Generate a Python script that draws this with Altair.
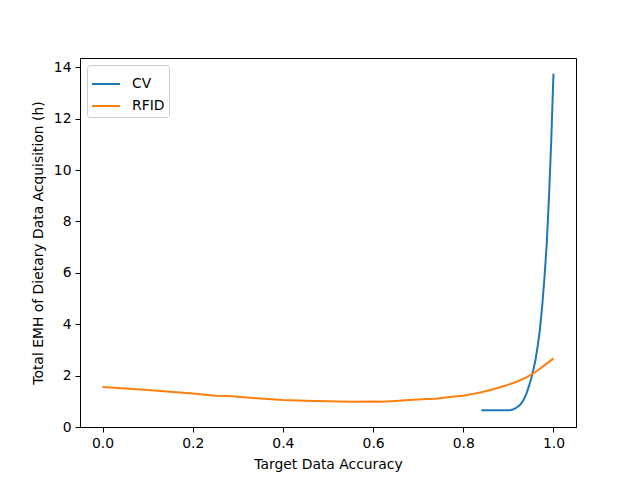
import altair as alt
import pandas as pd

cv_x = [0.84, 0.86, 0.88, 0.90, 0.905, 0.91, 0.915, 0.92, 0.925, 0.93, 0.935, 0.94,
        0.945, 0.95, 0.955, 0.96, 0.965, 0.97, 0.975, 0.98, 0.985, 0.99, 0.995, 1.00]
cv_y = [0.65, 0.65, 0.65, 0.65, 0.66, 0.68, 0.72, 0.78, 0.85, 0.95, 1.10, 1.30,
        1.55, 1.85, 2.20, 2.60, 3.15, 3.80, 4.70, 5.80, 7.10, 8.90, 11.10, 13.75]

rfid_x = [0.00, 0.05, 0.10, 0.15, 0.20, 0.25, 0.28, 0.30, 0.35, 0.40, 0.45, 0.50,
          0.55, 0.60, 0.62, 0.65, 0.68, 0.70, 0.72, 0.74, 0.76, 0.78, 0.80, 0.82,
          0.84, 0.86, 0.88, 0.90, 0.92, 0.94, 0.96, 0.98, 1.00]
rfid_y = [1.56, 1.50, 1.44, 1.37, 1.30, 1.22, 1.21, 1.18, 1.11, 1.05, 1.02, 1.00,
          0.98, 0.99, 0.98, 1.01, 1.05, 1.07, 1.09, 1.10, 1.15, 1.19, 1.22, 1.28,
          1.35, 1.44, 1.54, 1.65, 1.77, 1.93, 2.14, 2.40, 2.67]

series = ["CV", "RFID"]
colors = ["#1f77b4", "#ff7f0e"]

df = pd.concat([
    pd.DataFrame({"x": cv_x, "y": cv_y, "s": "CV", "o": range(len(cv_x))}),
    pd.DataFrame({"x": rfid_x, "y": rfid_y, "s": "RFID", "o": range(len(rfid_x))}),
])

font = "DejaVu Sans"
fs = 13.9

chart = alt.Chart(df).mark_line(strokeWidth=2, clip=True).encode(
    x=alt.X("x:Q", title="Target Data Accuracy",
            scale=alt.Scale(domain=[-0.05, 1.05], nice=False, zero=False),
            axis=alt.Axis(values=[0, 0.2, 0.4, 0.6, 0.8, 1.0], format=".1f")),
    y=alt.Y("y:Q", title="Total EMH of Dietary Data Acquisition (h)",
            scale=alt.Scale(domain=[0, 14.36], nice=False),
            axis=alt.Axis(values=list(range(0, 15, 2)), format="d")),
    color=alt.Color("s:N", scale=alt.Scale(domain=series, range=colors),
                    legend=alt.Legend(title=None, orient="none", legendX=7, legendY=7,
                                      symbolType="stroke", symbolSize=784,
                                      symbolStrokeWidth=2, labelFontSize=fs,
                                      labelFont=font, labelColor="black",
                                      labelOffset=11, rowPadding=-10,
                                      strokeColor="#cccccc", cornerRadius=3,
                                      fillColor="white", padding=4)),
    order="o:Q",
).properties(
    width=496, height=369,
    padding={"left": 72, "top": 50, "right": 56, "bottom": 45},
    autosize=alt.AutoSizeParams(type="none"),
).configure_view(
    stroke="black", strokeWidth=1
).configure_axis(
    grid=False, domainColor="black", tickColor="black", tickSize=5,
    labelFont=font, labelFontSize=fs, labelColor="black", labelPadding=4,
    titleFont=font, titleFontSize=fs, titleColor="black", titleFontWeight="normal",
    titlePadding=8,
)

chart.save("out.html", embed_options={"renderer": "svg", "actions": False})
